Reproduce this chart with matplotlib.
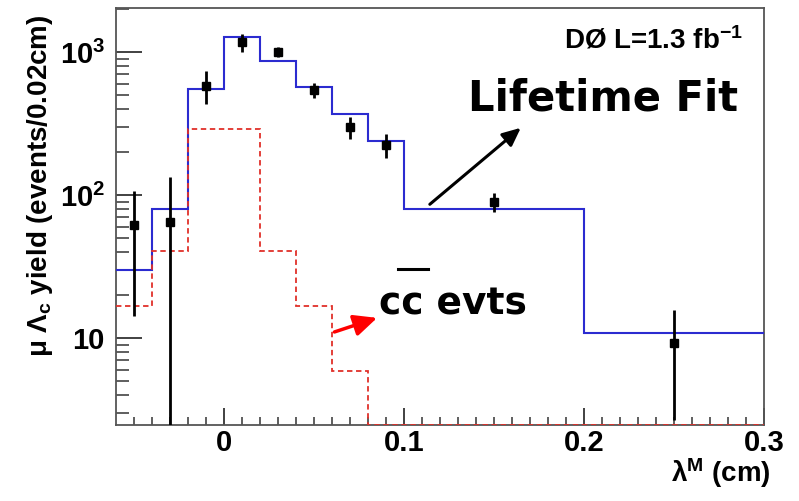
import numpy as np
import matplotlib
matplotlib.use('Agg')
import matplotlib.pyplot as plt

plt.rcParams['font.family'] = ['Liberation Sans', 'DejaVu Sans']
plt.rcParams['font.weight'] = 'bold'
plt.rcParams['mathtext.fontset'] = 'custom'
plt.rcParams['mathtext.rm'] = 'Liberation Sans:bold'
plt.rcParams['mathtext.bf'] = 'Liberation Sans:bold'
plt.rcParams['mathtext.it'] = 'Liberation Sans:bold'

# bin edges (cm)
edges = [-0.06, -0.04, -0.02, 0.0, 0.02, 0.04, 0.06, 0.08, 0.1, 0.2, 0.3]
# lifetime fit (blue)
fit = [30, 80, 548, 1270, 860, 566, 367, 239, 80, 10.8]
# c-cbar component (red dashed)
ccbar = [16.7, 40.8, 288, 288, 40.8, 16.7, 5.9, 1.0, 0.5, 0.2]

# data points
x_pts = [-0.05, -0.03, -0.01, 0.01, 0.03, 0.05, 0.07, 0.09, 0.15, 0.25]
y_pts = [61.6, 65, 581, 1169, 1003, 542, 299, 224, 89.8, 9.3]
y_hi = [107, 133, 740, 1330, 1089, 604, 349, 266, 103, 15.8]
y_lo = [14.3, 0.1, 433, 1005, 918, 474, 245, 181, 76, 2.67]

ymin, ymax = 2.47, 2030

fig = plt.figure(figsize=(7.99, 5.01), dpi=100)
ax = fig.add_axes([0.1452, 0.1517, 0.811, 0.8323])

ax.stairs(fit, edges, baseline=None, color='#2b2bd0', lw=1.5, zorder=3)
# ROOT draws bins below the minimum on the frame bottom
ax.stairs(np.maximum(ccbar, ymin * 1.005), edges, baseline=None,
          color='#e0302a', lw=1.3, ls=(0, (3, 2)), zorder=3)

y_pts = np.array(y_pts)
yerr = [y_pts - np.array(y_lo), np.array(y_hi) - y_pts]
ax.errorbar(x_pts, y_pts, yerr=yerr, fmt='s', color='black', ms=6,
            elinewidth=2, capsize=0, zorder=4)

ax.set_yscale('log')
ax.set_xlim(-0.06, 0.3)
ax.set_ylim(ymin, ymax)

ax.set_xticks([0, 0.1, 0.2, 0.3])
ax.set_xticklabels(['0', '0.1', '0.2', '0.3'], fontsize=21, fontweight='bold')
ax.set_xticks(np.arange(-0.06, 0.3001, 0.01)[1:-1], minor=True)
ax.set_yticks([10, 100, 1000])
ax.set_yticklabels(['10', r'$\mathbf{10^{2}}$', r'$\mathbf{10^{3}}$'], fontsize=21)
ax.tick_params(axis='both', which='major', direction='in', width=1.3,
               color='#333333')
ax.tick_params(axis='both', which='minor', direction='in', width=1.1,
               color='#333333')
ax.tick_params(axis='y', which='major', length=19, pad=8)
ax.tick_params(axis='y', which='minor', length=9, labelleft=False)
ax.tick_params(axis='x', which='major', length=12, pad=3)
ax.tick_params(axis='x', which='minor', length=6)
for s in ax.spines.values():
    s.set_color('#555555')
    s.set_linewidth(1.3)

fig.text(0.05, 0.63, r'μ Λ$_{\mathbf{c}}$ yield (events/0.02cm)', rotation=90,
         ha='center', va='center', fontsize=20, fontweight='bold')
fig.text(0.965, 0.055, r'λ$^{\mathbf{M}}$ (cm)', ha='right', va='center',
         fontsize=20, fontweight='bold')

ax.text(0.968, 0.923, r'DØ L=1.3 fb$^{\mathbf{-1}}$', transform=ax.transAxes,
        ha='right', va='center', fontsize=20, fontweight='bold')

ax.text(0.543, 0.784, 'Lifetime Fit', transform=ax.transAxes, ha='left',
        va='center', fontsize=30, fontweight='bold', family='DejaVu Sans')
ax.annotate('', xy=(0.628, 0.717), xytext=(0.481, 0.525),
            xycoords='axes fraction', textcoords='axes fraction',
            arrowprops=dict(arrowstyle='-|>,head_length=1.1,head_width=0.5',
                            color='black', lw=2.2))

ax.text(0.406, 0.290, 'cc evts', transform=ax.transAxes, ha='left',
        va='center', fontsize=27, fontweight='bold', family='DejaVu Sans')
ax.plot([0.435, 0.481], [0.374, 0.374], transform=ax.transAxes, color='black',
        lw=2.2, clip_on=False)
ax.annotate('', xy=(0.407, 0.259), xytext=(0.333, 0.221),
            xycoords='axes fraction', textcoords='axes fraction',
            arrowprops=dict(arrowstyle='-|>,head_length=1.4,head_width=0.65',
                            color='red', lw=2.5))

fig.savefig('out.png', dpi=100)
